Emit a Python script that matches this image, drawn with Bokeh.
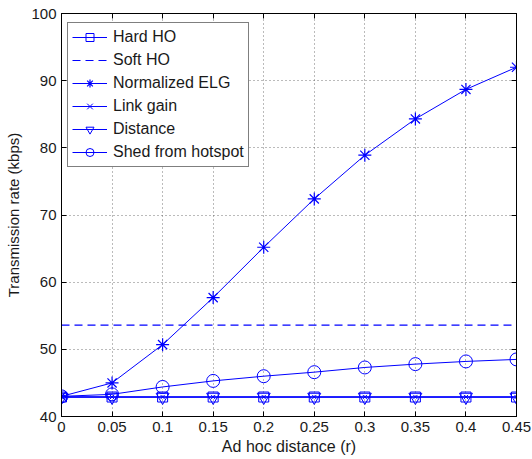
from bokeh.plotting import figure
from bokeh.models import Range1d, FixedTicker, LinearAxis, Legend, CustomLabelingPolicy
from bokeh.embed import file_html
from bokeh.resources import INLINE

x_vals = [0, 0.05, 0.1, 0.15, 0.2, 0.25, 0.3, 0.35, 0.4, 0.45]
x_tick_labels = ["0", "0.05", "0.1", "0.15", "0.2", "0.25", "0.3", "0.35", "0.4", "0.45"]
y_ticks = [40, 50, 60, 70, 80, 90, 100]

hard_ho = [42.9, 42.9, 42.9, 42.9, 42.9, 42.9, 42.9, 42.9, 42.9, 42.9]
soft_ho = [53.6, 53.6, 53.6, 53.6, 53.6, 53.6, 53.6, 53.6, 53.6, 53.6]
norm_elg = [43.0, 45.0, 50.7, 57.7, 65.2, 72.4, 78.9, 84.3, 88.7, 92.0]
link_gain = [42.9, 42.9, 42.9, 42.9, 42.9, 42.9, 42.9, 42.9, 42.9, 42.9]
distance = [42.9, 42.9, 42.9, 42.9, 42.9, 42.9, 42.9, 42.9, 42.9, 42.9]
shed = [43.0, 43.3, 44.4, 45.3, 46.0, 46.6, 47.3, 47.8, 48.2, 48.5]

FONT = "Liberation Sans"
BLUE = "#0000ff"
TEXT = "#1a1a1a"

p = figure(frame_width=455, frame_height=403, output_backend="svg", toolbar_location=None,
           x_range=Range1d(0, 0.45), y_range=Range1d(40, 100),
           min_border_left=61, min_border_right=16, min_border_top=13, min_border_bottom=43)
p.background_fill_color = "white"
p.border_fill_color = "white"
p.outline_line_color = "black"
p.outline_line_width = 1

tick_map = {x: l for x, l in zip(x_vals, x_tick_labels)}
for ax in (p.xaxis[0], p.yaxis[0]):
    ax.major_tick_in = 5
    ax.major_tick_out = 0
    ax.minor_tick_line_color = None
    ax.major_label_text_font = FONT
    ax.major_label_text_font_size = "15px"
    ax.major_label_text_color = TEXT
    ax.axis_label_text_font = FONT
    ax.axis_label_text_color = TEXT
    ax.axis_label_text_font_style = "normal"
    ax.axis_line_color = "black"
    ax.major_tick_line_color = "black"
p.xaxis[0].ticker = FixedTicker(ticks=x_vals)
p.xaxis[0].major_label_overrides = tick_map
p.xaxis[0].axis_label = "Ad hoc distance (r)"
p.xaxis[0].axis_label_text_font_size = "16px"
p.xaxis[0].axis_label_standoff = 3
p.xaxis[0].major_label_standoff = 5
p.yaxis[0].ticker = FixedTicker(ticks=y_ticks)
p.yaxis[0].axis_label = "Transmission rate (kbps)"
p.yaxis[0].axis_label_text_font_size = "15px"
p.yaxis[0].axis_label_standoff = 6
p.yaxis[0].major_label_standoff = 5

no_labels = CustomLabelingPolicy(code="""
for (const i of indices)
  indices.unset(i)
""")
top = LinearAxis(ticker=FixedTicker(ticks=x_vals), major_tick_in=5, major_tick_out=0,
                 minor_tick_line_color=None, major_label_policy=no_labels,
                 axis_line_color="black", major_label_standoff=0)
right = LinearAxis(ticker=FixedTicker(ticks=y_ticks), major_tick_in=5, major_tick_out=0,
                   minor_tick_line_color=None, major_label_policy=no_labels,
                   axis_line_color="black", major_label_standoff=0)
p.add_layout(top, "above")
p.add_layout(right, "right")

p.xgrid.ticker = FixedTicker(ticks=x_vals)
p.ygrid.ticker = FixedTicker(ticks=y_ticks)
for g in (p.xgrid, p.ygrid):
    g.grid_line_color = "#555555"
    g.grid_line_dash = "1 3"
    g.grid_line_width = 1
    g.grid_line_alpha = 0.8

r1 = p.line(x_vals, hard_ho, color=BLUE, line_width=1)
m1 = p.scatter(x_vals, hard_ho, marker="square", size=10, fill_color=None, line_color=BLUE)
r2 = p.line(x_vals, soft_ho, color=BLUE, line_width=1.2, line_dash="8 5")
r3 = p.line(x_vals, norm_elg, color=BLUE, line_width=1)
m3 = p.scatter(x_vals, norm_elg, marker="asterisk", size=13, line_color=BLUE, line_width=1.2)
r4 = p.line(x_vals, link_gain, color=BLUE, line_width=1)
m4 = p.scatter(x_vals, link_gain, marker="x", size=6, line_color=BLUE, line_width=1)
r5 = p.line(x_vals, distance, color=BLUE, line_width=1)
m5 = p.scatter(x_vals, distance, marker="inverted_triangle", size=13, fill_color=None, line_color=BLUE)
r6 = p.line(x_vals, shed, color=BLUE, line_width=1)
m6 = p.scatter(x_vals, shed, marker="circle", size=13, fill_color=None, line_color=BLUE)

legend = Legend(items=[
    ("Hard HO", [r1, m1]),
    ("Soft HO", [r2]),
    ("Normalized ELG", [r3, m3]),
    ("Link gain", [r4, m4]),
    ("Distance", [r5, m5]),
    ("Shed from hotspot", [r6, m6]),
], location=(6, 249))
legend.label_text_font = FONT
legend.label_text_font_size = "16px"
legend.label_text_color = TEXT
legend.glyph_width = 35
legend.glyph_height = 20
legend.label_height = 20
legend.spacing = 3
legend.padding = 4
legend.margin = 0
legend.label_standoff = 6
legend.border_line_color = "black"
legend.border_line_width = 1
legend.background_fill_alpha = 1
p.add_layout(legend, "center")

open("out.html", "w").write(file_html(p, INLINE))
